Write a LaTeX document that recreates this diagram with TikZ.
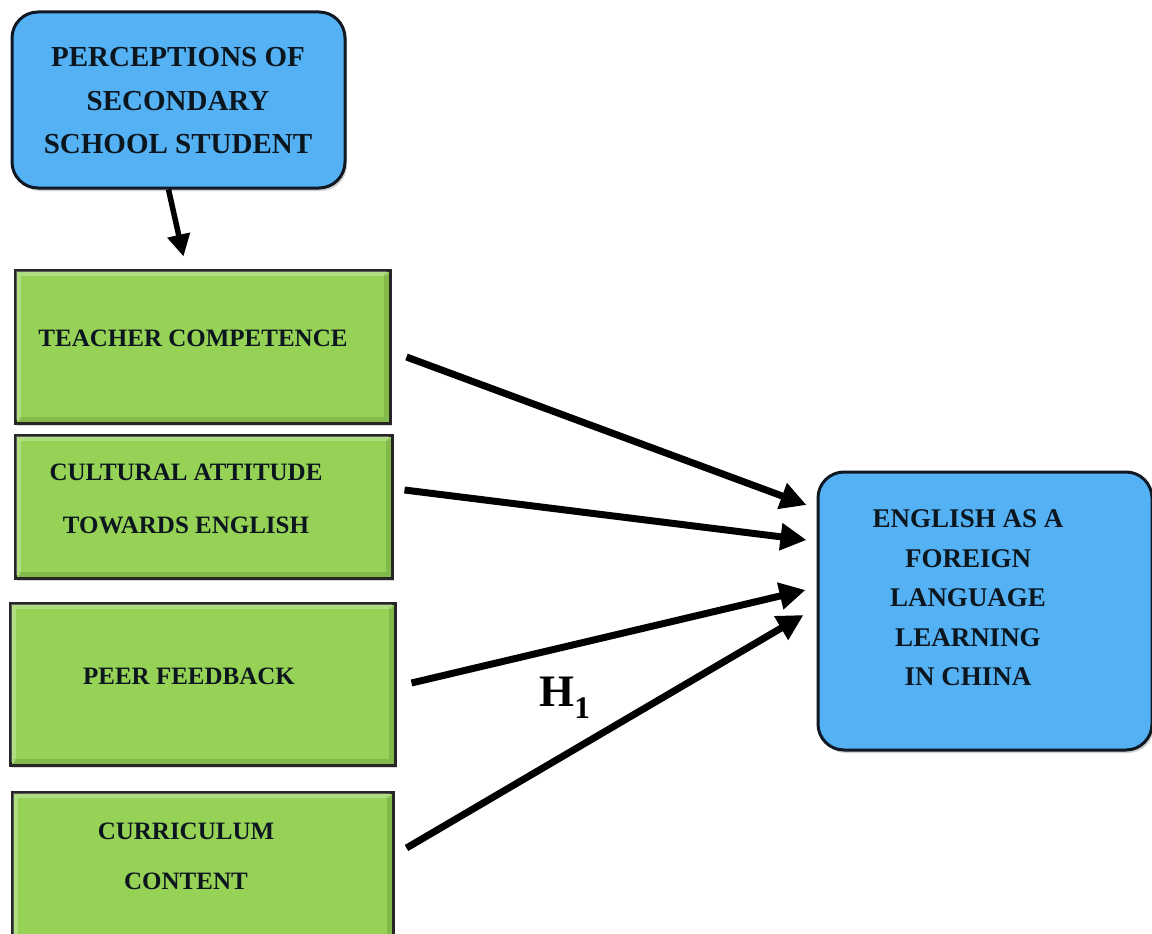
\documentclass[tikz,border=0pt]{standalone}
\usepackage{fontspec}
\setmainfont{Liberation Serif}
\usetikzlibrary{arrows.meta,shadows,calc}
\definecolor{boxblue}{RGB}{84,178,244}
\definecolor{boxgreen}{RGB}{150,210,85}
\definecolor{txtdark}{RGB}{12,22,30}
\definecolor{bordnavy}{RGB}{16,24,36}
\tikzset{
  bluebox/.style={draw=bordnavy, line width=3pt, fill=boxblue, rounded corners=26pt,
     drop shadow={shadow xshift=2pt,shadow yshift=-3pt,opacity=0.35}},
  greenbox/.style={draw=black!85, line width=3pt, fill=boxgreen,
     drop shadow={shadow xshift=2pt,shadow yshift=-3pt,opacity=0.3}},
  lbl/.style={font=\fontsize{25}{40}\selectfont\bfseries, text=txtdark, align=center, inner sep=0pt},
  conn/.style={line width=7pt, -{Triangle[length=26pt,width=26pt]}},
}
\begin{document}
\begin{tikzpicture}[x=1pt,y=-1pt]
\useasboundingbox (0,0) rectangle (1152,934);
\fill[white] (0,0) rectangle (1152,934);
% boxes
\node[bluebox, minimum width=333pt, minimum height=176pt] (top) at (178.5,100) {};
\node[greenbox, minimum width=375pt, minimum height=153pt] (g1) at (202.5,346.5) {};
\node[greenbox, minimum width=377pt, minimum height=143pt] (g2) at (203.5,506.5) {};
\node[greenbox, minimum width=385pt, minimum height=162pt] (g3) at (202.5,684) {};
\node[greenbox, minimum width=381pt, minimum height=170pt] (g4) at (202.5,877) {};
\node[bluebox, minimum width=334pt, minimum height=278pt] (eng) at (985,611) {};
% bevel highlights
\foreach \b in {g1,g2,g3,g4}{
  \draw[white, opacity=0.25, line width=5pt] ([shift={(5,-5)}]\b.south west) -- ([shift={(5,5)}]\b.north west) -- ([shift={(-5,5)}]\b.north east);
  \draw[black, opacity=0.12, line width=5pt] ([shift={(-5,5)}]\b.north east) -- ([shift={(-5,-5)}]\b.south east) -- ([shift={(5,-5)}]\b.south west);
}
% texts
\node[lbl, font=\fontsize{29}{43.5}\selectfont\bfseries] (ttop) at (178,101) {PERCEPTIONS OF\\SECONDARY\\SCHOOL STUDENT};
\node[lbl] (t1) at (193,338) {TEACHER COMPETENCE};
\node[lbl, font=\fontsize{25}{53}\selectfont\bfseries] (t2) at (186,499) {CULTURAL ATTITUDE\\TOWARDS ENGLISH};
\node[lbl] (t3) at (189,676) {PEER FEEDBACK};
\node[lbl, font=\fontsize{25}{50}\selectfont\bfseries] (t4) at (186,856) {CURRICULUM\\CONTENT};
\node[lbl, font=\fontsize{27}{39.5}\selectfont\bfseries] (teng) at (968,598) {ENGLISH AS A\\FOREIGN\\LANGUAGE\\LEARNING\\IN CHINA};
\node[font=\fontsize{45}{50}\selectfont\bfseries, text=black, inner sep=0pt] (h1) at (565,698) {H\textsubscript{1}};
% connectors
\draw[line width=5.5pt, -{Triangle[length=22pt,width=22pt]}] ([xshift=-10pt]top.south) -- ([shift={(-19,-12)}]g1.north);
\draw[conn] ([shift={(15,10.5)}]g1.east) -- ([shift={(-10,-106)}]eng.west);
\draw[conn] ([shift={(11,-16.5)}]g2.east) -- ([shift={(-10,-71)}]eng.west);
\draw[conn] ([shift={(15,-1)}]g3.east) -- ([shift={(-11,-21)}]eng.west);
\draw[conn] ([shift={(12,-29)}]g4.east) -- ([shift={(-13,4)}]eng.west);
\end{tikzpicture}
\end{document}
